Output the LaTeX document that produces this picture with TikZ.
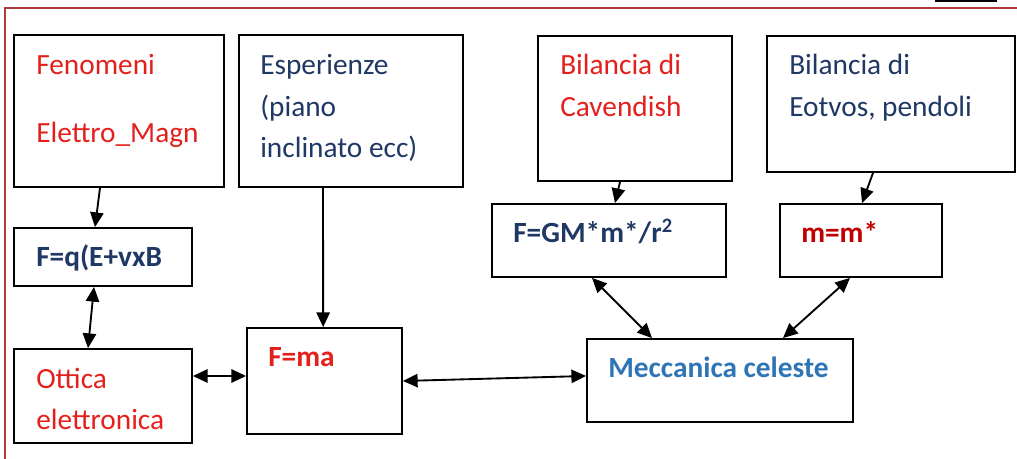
\documentclass[tikz,border=0pt]{standalone}
\usepackage{fontspec}
\setmainfont{Carlito}
\usetikzlibrary{arrows.meta}
\definecolor{txtred}{HTML}{E3201B}
\definecolor{txtnavy}{HTML}{1F3864}
\definecolor{txtdark}{HTML}{C00000}
\definecolor{txtblue}{HTML}{2E75B6}
\definecolor{framered}{HTML}{B03A3A}

\begin{document}
\begin{tikzpicture}[x=0.75pt, y=-0.75pt,
  box/.style={draw, line width=1.4pt, rectangle, inner sep=0pt},
  lbl/.style={anchor=base west, inner sep=0pt, font=\fontsize{22}{26}\selectfont},
  blbl/.style={lbl, font=\fontsize{22}{26}\selectfont\bfseries},
  arr/.style={line width=1.4pt, -{Triangle[length=11pt,width=10pt]}},
  darr/.style={line width=1.4pt, {Triangle[length=11pt,width=10pt]}-{Triangle[length=11pt,width=10pt]}}]

\useasboundingbox (0,0) rectangle (1017,459);

% Frame
\draw[framered, line width=0.8pt] (5,459) -- (5,8) -- (1017,8);
\fill (935,0) rectangle (997,2.5);

% Top row
\node[box, minimum width=157.5pt, minimum height=114pt] (fen) at (119,111) {};
\node[box, minimum width=168pt, minimum height=114pt] (esp) at (351,111) {};
\node[box, minimum width=145.5pt, minimum height=108.75pt] (cav) at (635,108.5) {};
\node[box, minimum width=186pt, minimum height=102pt] (eot) at (891,104) {};

\node[lbl, txtred] (fenA) at (36,75) {Fenomeni};
\node[lbl, txtred] (fenB) at (36,143) {Elettro\_Magn};
\node[lbl, txtnavy] (espA) at (260,75) {Esperienze};
\node[lbl, txtnavy] (espB) at (260,117) {(piano};
\node[lbl, txtnavy] (espC) at (260,158) {inclinato ecc)};
\node[lbl, txtred] (cavA) at (560,75) {Bilancia di};
\node[lbl, txtred] (cavB) at (560,117) {Cavendish};
\node[lbl, txtnavy] (eotA) at (789,75) {Bilancia di};
\node[lbl, txtnavy] (eotB) at (789,117) {Eotvos, pendoli};

% Laws
\node[box, minimum width=133.5pt, minimum height=43.5pt] (fq) at (103,257) {};
\node[box, minimum width=175.5pt, minimum height=54.75pt] (fgm) at (609,240.5) {};
\node[box, minimum width=121.5pt, minimum height=54.75pt] (mm) at (861,240.5) {};

\node[blbl, txtnavy] (fqT) at (36,267) {F=q(E+vxB};
\node[blbl, txtnavy] (fgmT) at (513,243) {F=GM*m*/r\textsuperscript{2}};
\node[blbl, txtdark] (mmT) at (801,243) {m=m*};

% Bottom row
\node[box, minimum width=133.5pt, minimum height=70.5pt] (ott) at (103,396) {};
\node[box, minimum width=116.25pt, minimum height=79.5pt] (fma) at (324.5,381) {};
\node[box, minimum width=199.5pt, minimum height=62.25pt] (mec) at (720,380.5) {};

\node[lbl, txtred] (ottA) at (36,388) {Ottica};
\node[lbl, txtred] (ottB) at (36,429) {elettronica};
\node[blbl, txtred] (fmaT) at (268,367) {F=ma};
\node[blbl, txtblue] (mecT) at (608,378) {Meccanica celeste};

% Connections
\draw[arr] ([xshift=-14.25pt]fen.south) -- ([xshift=-6pt]fq.north);
\draw[darr] ([xshift=-6.75pt]fq.south) -- ([xshift=-11.25pt]ott.north);
\draw[darr] ([yshift=15pt]ott.east) -- ([yshift=3.75pt]fma.west);
\draw[arr] ([xshift=-21pt]esp.south) -- ([xshift=-1pt]fma.north);
\draw[darr] (fma.east) -- ([yshift=3.4pt]mec.west);
\draw[arr] ([xshift=-11.25pt]cav.south) -- ([xshift=4.5pt]fgm.north);
\draw[arr] ([xshift=-13.5pt]eot.south) -- ([xshift=0.75pt]mm.north);
\draw[darr] ([xshift=-12.75pt]fgm.south) -- ([xshift=-51pt]mec.north);
\draw[darr] ([xshift=-8.25pt]mm.south) -- ([xshift=47.25pt]mec.north);

\end{tikzpicture}
\end{document}
